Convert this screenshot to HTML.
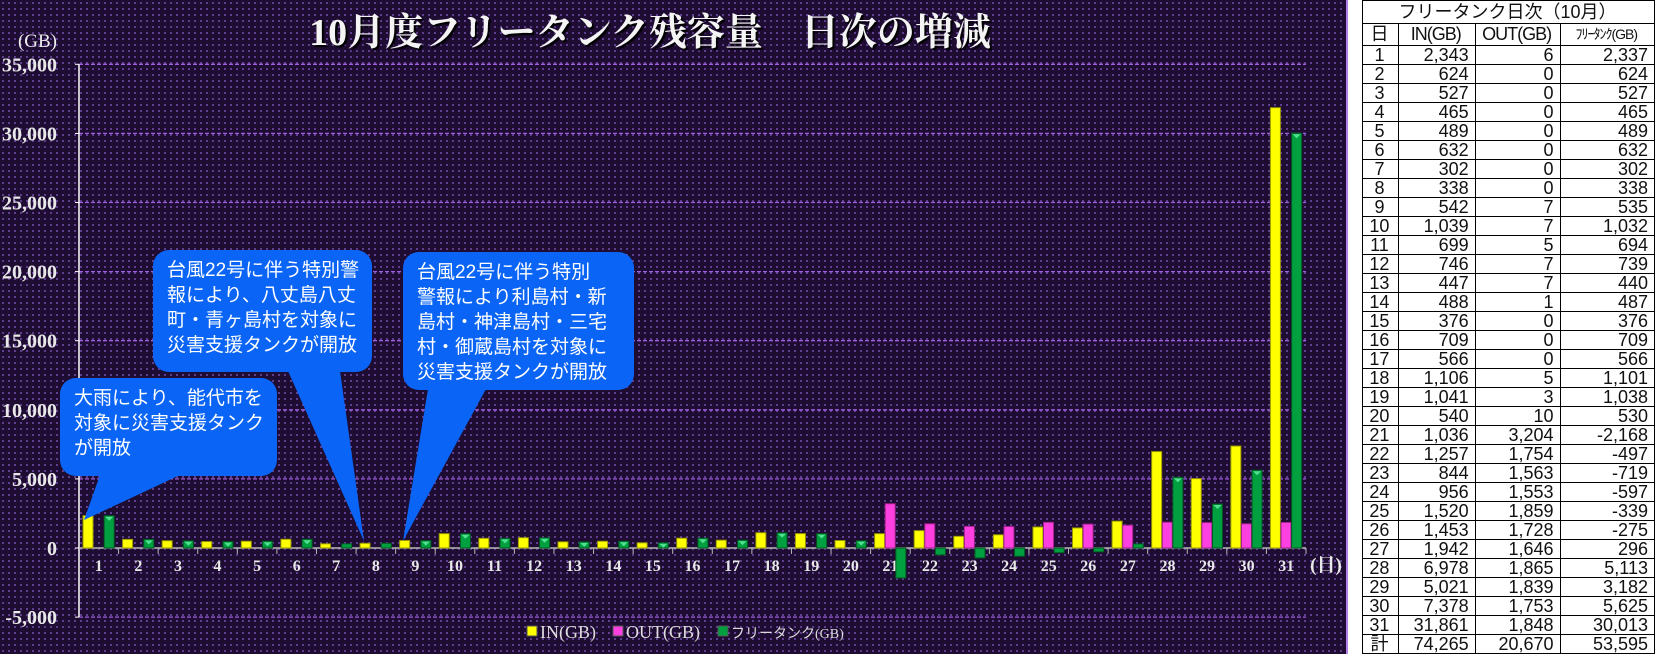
<!DOCTYPE html>
<html><head><meta charset="utf-8">
<style>
html,body{margin:0;padding:0;width:1655px;height:654px;overflow:hidden;background:#fff;}
#chart{position:absolute;left:0;top:0;width:1348px;height:654px;
background-color:#1f0c33;
background-image:radial-gradient(circle,#6a48a0 0.8px,transparent 1.2px);
background-size:6px 6px;border-right:2px solid #b27ee8;box-sizing:border-box;}
svg{position:absolute;left:0;top:0}
.callout{position:absolute;background:#0a64f5;color:#fff;border-radius:16px;white-space:nowrap;
font-family:"Liberation Sans","Noto Sans CJK JP",sans-serif;font-size:19px;line-height:25px;padding:8px 10px 8px 14px;box-sizing:border-box;}
#tbl{position:absolute;left:1362px;top:0;border-collapse:collapse;
font-family:"Liberation Sans","Noto Sans CJK JP",sans-serif;font-size:18px;color:#111;}
#tbl td{border:1px solid #000;padding:0 6px 0 4px;height:18px;line-height:17px;text-align:right;}
#tbl td.c{text-align:center}
</style></head><body>
<div id="chart"></div>
<svg id="svg" width="1348" height="654"></svg>

<div class="callout" style="left:60px;top:378px;width:217px;height:98px;">大雨により、能代市を<br>対象に災害支援タンク<br>が開放</div>
<div class="callout" style="left:153px;top:250px;width:219px;height:122px;">台風22号に伴う特別警<br>報により、八丈島八丈<br>町・青ヶ島村を対象に<br>災害支援タンクが開放</div>
<div class="callout" style="left:403px;top:252px;width:231px;height:138px;">台風22号に伴う特別<br>警報により利島村・新<br>島村・神津島村・三宅<br>村・御蔵島村を対象に<br>災害支援タンクが開放</div>

<table id="tbl"></table>

<script>
const days=[1,2,3,4,5,6,7,8,9,10,11,12,13,14,15,16,17,18,19,20,21,22,23,24,25,26,27,28,29,30,31];
const inVals=[2343,624,527,465,489,632,302,338,542,1039,699,746,447,488,376,709,566,1106,1041,540,1036,1257,844,956,1520,1453,1942,6978,5021,7378,31861];
const outVals=[6,0,0,0,0,0,0,0,7,7,5,7,7,1,0,0,0,5,3,10,3204,1754,1563,1553,1859,1728,1646,1865,1839,1753,1848];
const freeVals=[2337,624,527,465,489,632,302,338,535,1032,694,739,440,487,376,709,566,1101,1038,530,-2168,-497,-719,-597,-339,-275,296,5113,3182,5625,30013];
const yTicks=[-5000,0,5000,10000,15000,20000,25000,30000,35000];
const totals=[74265,20670,53595];

const NS='http://www.w3.org/2000/svg';
const svg=document.getElementById('svg');
const X0=79,X1=1306,Y0=548,PX=69.1/5000;
const cw=(X1-X0)/days.length;
const y=v=>Y0-v*PX;
const xc=i=>X0+i*cw;
function el(t,a,p){const e=document.createElementNS(NS,t);for(const k in a)e.setAttribute(k,a[k]);(p||svg).appendChild(e);return e;}
const fmt=v=>v.toLocaleString('en-US');

let t=el('text',{x:650,y:45,'text-anchor':'middle','font-family':'"Liberation Serif","Noto Serif CJK SC",serif','font-size':38,'font-weight':'bold',fill:'#f4f4f4',style:'text-shadow:2px 2px 1px #000'});
t.textContent='10月度フリータンク残容量　日次の増減';


t=el('text',{x:57,y:47,'text-anchor':'end','font-family':'"Liberation Serif",serif','font-size':19,fill:'#eee'});
t.textContent='(GB)';



yTicks.forEach(v=>{
  if(v!==0){const g=el('line',{x1:X0,x2:X1,y1:y(v),y2:y(v),stroke:'#a05ee0','stroke-width':1.3,'stroke-dasharray':'4 2'});
  
  }
  el('line',{x1:X0-4,x2:X0,y1:y(v),y2:y(v),stroke:'#fff'});
  const l=el('text',{x:57,y:y(v)+7,'text-anchor':'end','font-family':'"Liberation Serif",serif','font-size':20,'font-weight':'bold',fill:'#e8e8e8'});
  l.textContent=fmt(v);
  
  
});
el('line',{x1:X0,x2:X0,y1:y(35000),y2:y(-5000),stroke:'#fff','stroke-width':1.5});
el('line',{x1:X0,x2:X1,y1:Y0,y2:Y0,stroke:'#b8b8b8','stroke-width':1.5});

const series=[[inVals,'#ffff00','#9a9a00','bar-in'],[outVals,'#ff40e0','#a0208a','bar-out'],[freeVals,'#00a040','#005a20','bar-free']];
days.forEach((d,i)=>{
  const x=xc(i);
  el('line',{x1:x+cw,x2:x+cw,y1:Y0,y2:Y0+6,stroke:'#b8b8b8'});
  const l=el('text',{x:x+cw/2,y:Y0+23,'text-anchor':'middle','font-family':'"Liberation Serif",serif','font-size':16,'font-weight':'bold',fill:'#e8e8e8'});
  l.textContent=d;
  
  
  series.forEach((s,k)=>{
    const v=s[0][i];const bx=x+4+k*10.6;const top=Math.min(y(v),Y0),h=Math.abs(y(v)-Y0);
    if(h<0.5)return;
    const r=el('rect',{x:bx,y:top,width:10,height:h,fill:s[1],stroke:s[2],'stroke-width':1});
    
    
    if(k===2&&v>0&&h>5)el('polygon',{points:`${bx+1},${top+1} ${bx+9},${top+1} ${bx+5},${top+5}`,fill:'#50e090'});
  });
});
t=el('text',{x:1326,y:Y0+23,'text-anchor':'middle','font-family':'"Liberation Serif","Noto Serif CJK SC",serif','font-size':19,'font-weight':'bold',fill:'#e8e8e8'});
t.textContent='(日)';



const leg=[['IN(GB)','#ffff00',527,18],['OUT(GB)','#ff40e0',613,18],['フリータンク(GB)','#00a040',718,14]];
leg.forEach(L=>{
  const g=el('g',{});
  
  
  el('rect',{x:L[2],y:626,width:10,height:10,fill:L[1],stroke:'#555'},g);
  const tx=el('text',{x:L[2]+13,y:638,'font-family':'"Liberation Serif","Noto Sans CJK JP",serif','font-size':L[3],fill:'#ddd'},g);
  tx.textContent=L[0];
});

const tails=[[[100,475],[180,475],[84,520]],[[288,371],[340,371],[364,541]],[[428,389],[486,389],[403,541]]];
tails.forEach(p=>{const pg=el('polygon',{points:p.map(q=>q.join(',')).join(' '),fill:'#0a64f5'});

});

const tb=document.getElementById('tbl');
let h='<tr><td class="c" colspan="4" style="height:22px">フリータンク日次（10月）</td></tr>';
h+='<tr><td class="c" style="width:25px;height:21px">日</td><td class="c" style="width:66px;letter-spacing:-1px">IN(GB)</td><td class="c" style="width:74px;letter-spacing:-1px">OUT(GB)</td><td class="c" style="width:84px;font-size:14px;letter-spacing:-1px">ﾌﾘｰﾀﾝｸ(GB)</td></tr>';
days.forEach((d,i)=>{h+=`<tr><td class="c">${d}</td><td>${fmt(inVals[i])}</td><td>${fmt(outVals[i])}</td><td>${fmt(freeVals[i])}</td></tr>`;});
h+=`<tr><td class="c">計</td><td>${fmt(totals[0])}</td><td>${fmt(totals[1])}</td><td>${fmt(totals[2])}</td></tr>`;
tb.innerHTML=h;
</script>
</body></html>
